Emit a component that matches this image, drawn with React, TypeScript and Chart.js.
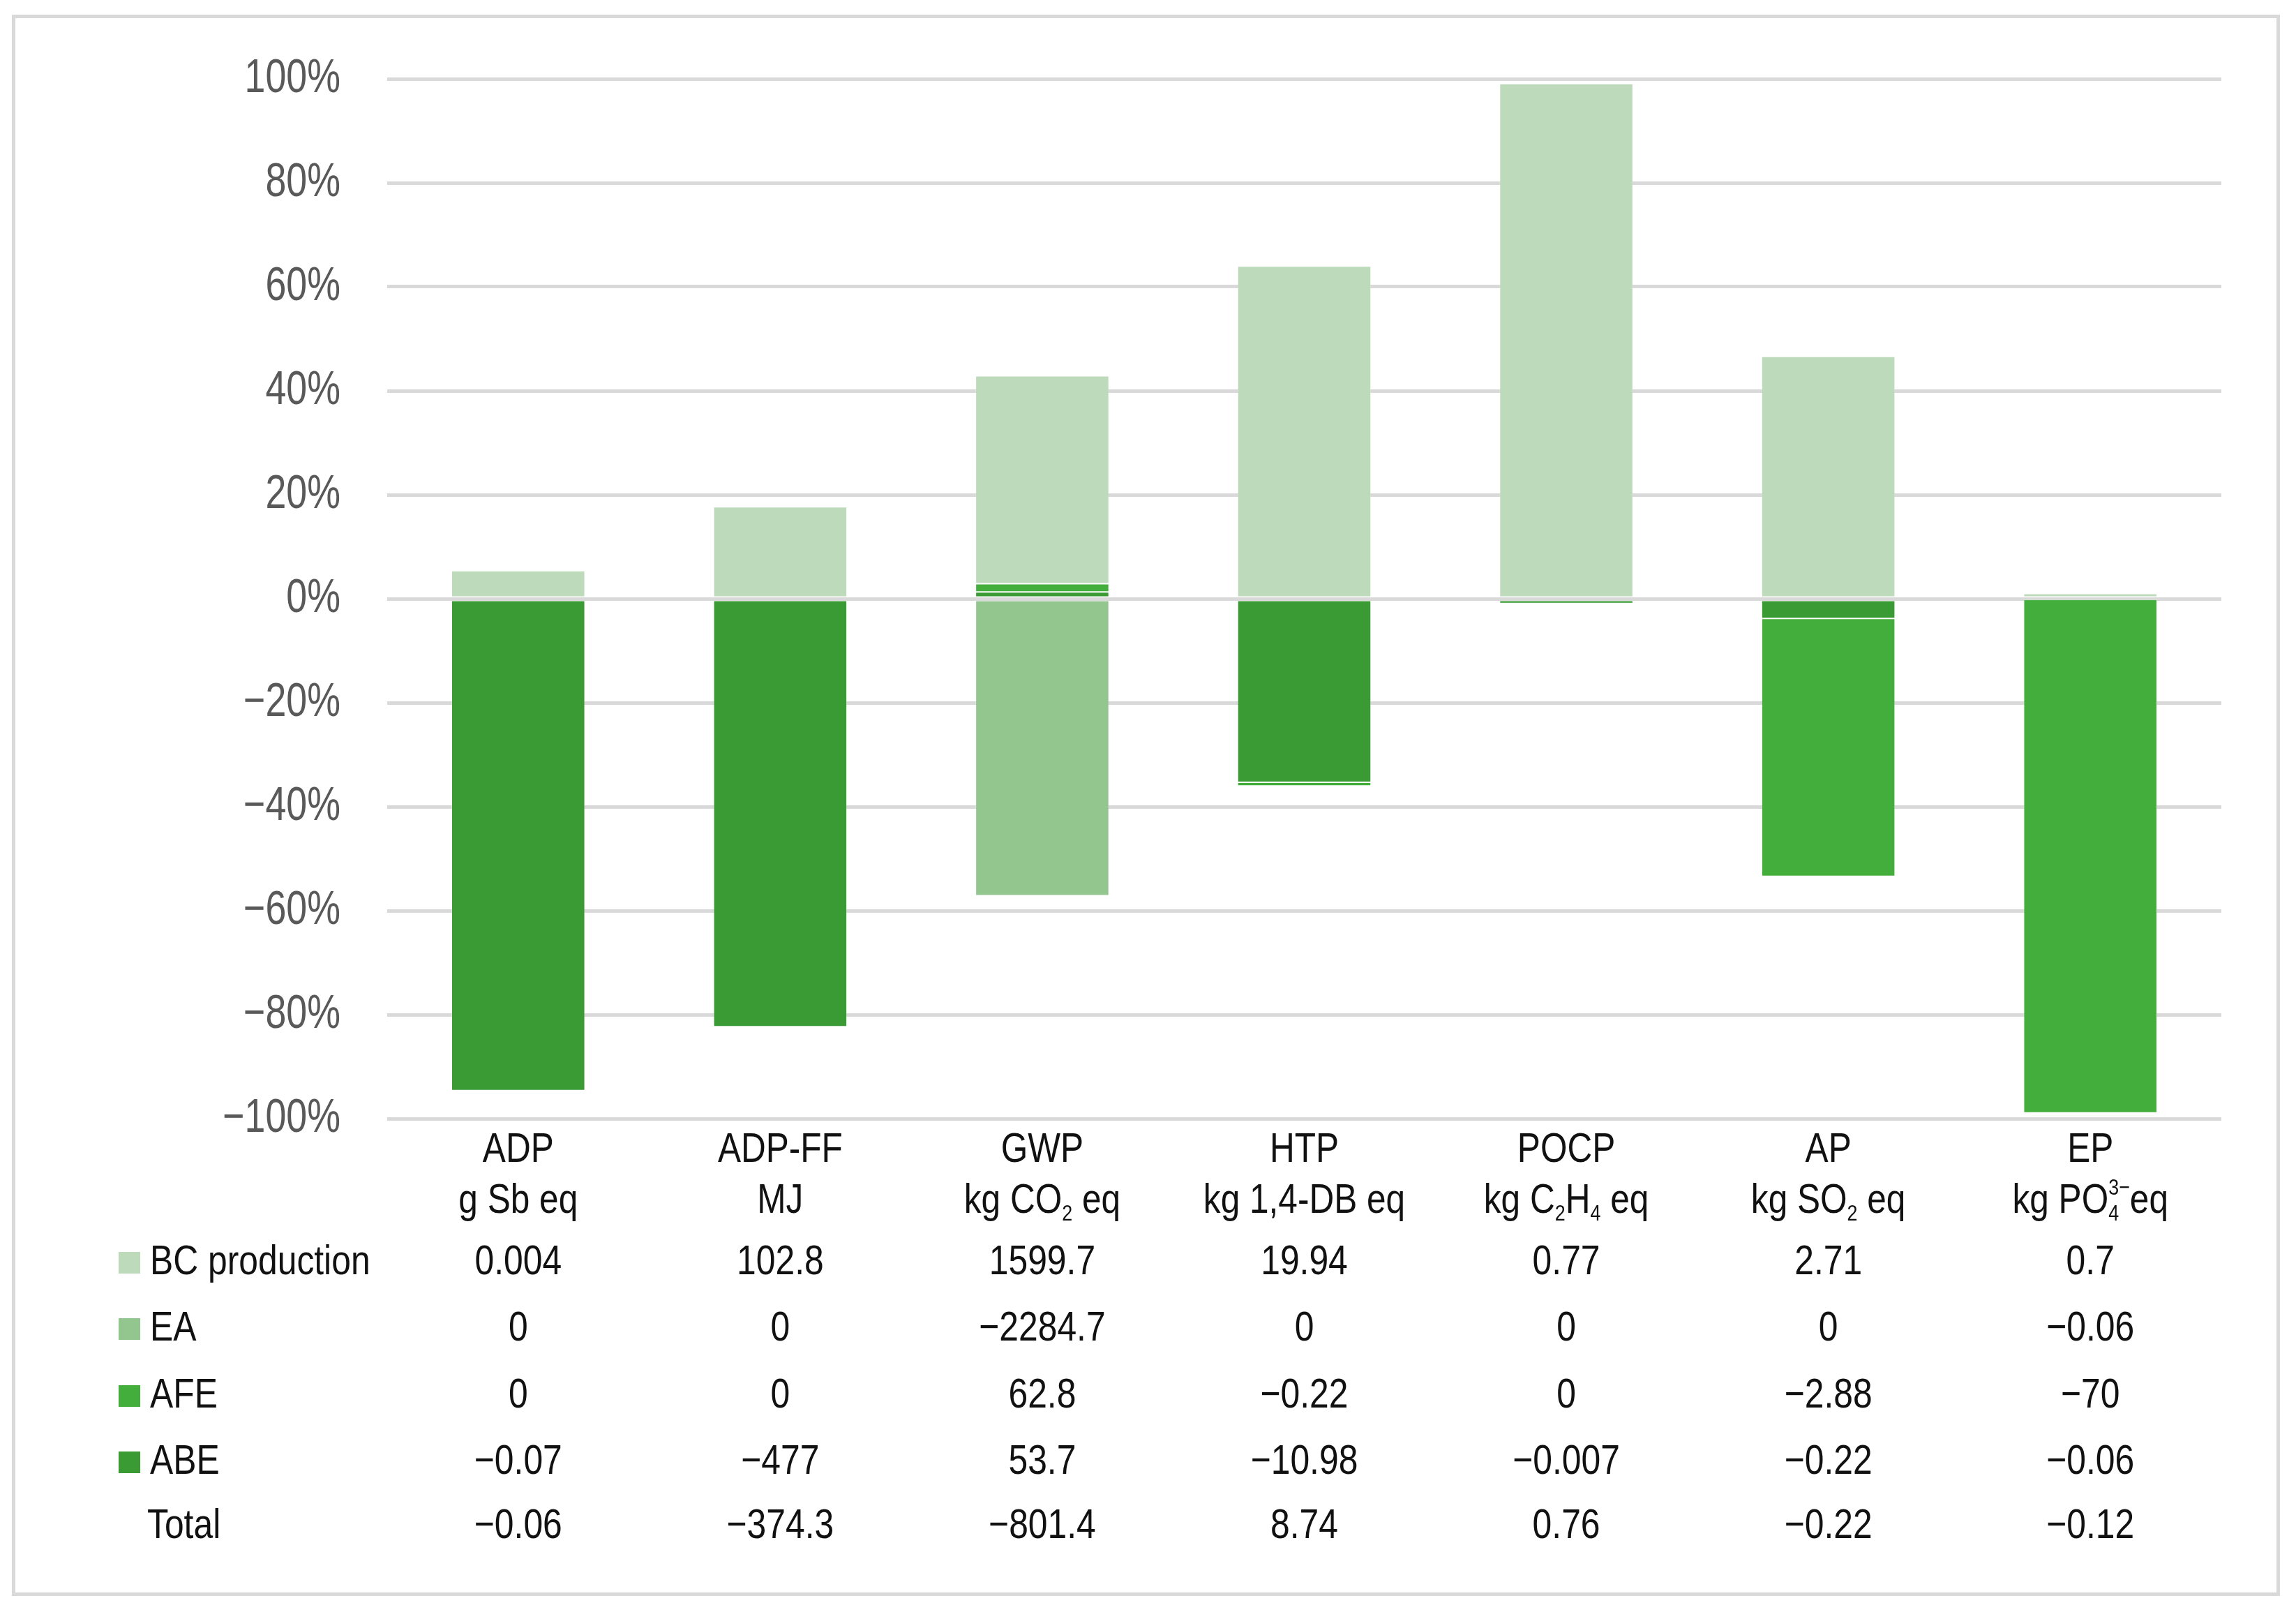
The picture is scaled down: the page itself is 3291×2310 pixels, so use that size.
import React, { useEffect, useRef } from 'react';
import { Chart, registerables } from 'chart.js';
Chart.register(...registerables);

const categories = ['ADP', 'ADP-FF', 'GWP', 'HTP', 'POCP', 'AP', 'EP'];
const units = ['g Sb eq', 'MJ', 'kg CO₂ eq', 'kg 1,4-DB eq', 'kg C₂H₄ eq', 'kg SO₂ eq', 'kg PO₄³⁻eq'];
const seriesNames = ['BC production', 'EA', 'AFE', 'ABE'];
const seriesColors = ['#BDDBBB', '#93C68F', '#43AE3B', '#3A9A33'];

// percentage shares
const bcPct = [5.4, 17.7, 40.0, 64.0, 99.1, 46.6, 1.0];
const eaPct = [0, 0, -57.1, 0, 0, 0, -0.1];
const afePct = [0, 0, 1.6, -0.7, 0, -49.6, -98.8];
const abePct = [-94.6, -82.3, 1.3, -35.3, -0.9, -3.8, -0.1];

// table values
const bcValues = ['0.004', '102.8', '1599.7', '19.94', '0.77', '2.71', '0.7'];
const eaValues = ['0', '0', '−2284.7', '0', '0', '0', '−0.06'];
const afeValues = ['0', '0', '62.8', '−0.22', '0', '−2.88', '−70'];
const abeValues = ['−0.07', '−477', '53.7', '−10.98', '−0.007', '−0.22', '−0.06'];
const totalValues = ['−0.06', '−374.3', '−801.4', '8.74', '0.76', '−0.22', '−0.12'];
const totalLabel = 'Total';

const yMin = -100;
const yMax = 100;
const yStep = 20;

const FONT = '"Liberation Sans", Arial, sans-serif';

const SUB: Record<string, string> = { '₀': '0', '₁': '1', '₂': '2', '₃': '3', '₄': '4', '₅': '5', '₆': '6', '₇': '7', '₈': '8', '₉': '9' };
const SUP: Record<string, string> = { '³': '3', '²': '2', '⁻': '−', '⁺': '+' };

// draws text (with sub/superscripts) horizontally condensed
function drawRich(ctx: any, text: string, x: number, y: number, align: string, size: number, color: string, sx: number) {
  const small = Math.round(size * 0.55);
  type Seg = { t: string; kind: 'n' | 'sub' | 'sup' };
  const segs: Seg[] = [];
  for (const ch of text) {
    const kind = SUB[ch] ? 'sub' : SUP[ch] ? 'sup' : 'n';
    const t = SUB[ch] || SUP[ch] || ch;
    const last = segs[segs.length - 1];
    if (last && last.kind === kind) last.t += t;
    else segs.push({ t, kind });
  }
  const items: { t: string; kind: string; x: number; w: number }[] = [];
  let cur = 0;
  let prevSubStart = -1;
  let prevSubW = 0;
  for (let i = 0; i < segs.length; i++) {
    const s = segs[i];
    ctx.font = `${s.kind === 'n' ? size : small}px ${FONT}`;
    const w = ctx.measureText(s.t).width;
    if (s.kind === 'sup' && prevSubStart >= 0) {
      items.push({ t: s.t, kind: s.kind, x: prevSubStart, w });
      cur = prevSubStart + Math.max(prevSubW, w);
      prevSubStart = -1;
      continue;
    }
    items.push({ t: s.t, kind: s.kind, x: cur, w });
    if (s.kind === 'sub') {
      prevSubStart = cur;
      prevSubW = w;
    } else prevSubStart = -1;
    cur += w;
  }
  const total = cur;
  const start = align === 'center' ? -total / 2 : align === 'right' ? -total : 0;
  ctx.save();
  ctx.translate(x, y);
  ctx.scale(sx, 1);
  ctx.fillStyle = color;
  ctx.textAlign = 'left';
  ctx.textBaseline = 'middle';
  for (const it of items) {
    ctx.font = `${it.kind === 'n' ? size : small}px ${FONT}`;
    const dy = it.kind === 'sub' ? size * 0.3 : it.kind === 'sup' ? -size * 0.32 : 0;
    ctx.fillText(it.t, start + it.x, dy);
  }
  ctx.restore();
}

const tablePlugin = {
  id: 'tablePlugin',
  afterDraw(chart: any) {
    const ctx = chart.ctx;
    const x = chart.scales.x;
    const yScale = chart.scales.y;
    const bottom = chart.chartArea.bottom;
    ctx.save();
    // outer frame
    ctx.strokeStyle = '#D9D9D9';
    ctx.lineWidth = 5;
    ctx.strokeRect(19.5, 23.5, 3246, 2261);

    // y tick labels
    yScale.ticks.forEach((t: any) => {
      const v = Number(t.value);
      const label = (v < 0 ? '−' + Math.abs(v) : String(v)) + '%';
      drawRich(ctx, label, 488, yScale.getPixelForValue(v), 'right', 68, '#595959', 0.79);
    });

    categories.forEach((c, i) => {
      const cx = x.getPixelForValue(i);
      drawRich(ctx, c, cx, bottom + 46, 'center', 59, '#111111', 0.84);
      drawRich(ctx, units[i], cx, bottom + 119, 'center', 59, '#111111', 0.84);
    });

    const rows = [bcValues, eaValues, afeValues, abeValues, totalValues];
    const rowY = [206, 301, 397, 492, 584];
    rows.forEach((vals, r) => {
      const y = bottom + rowY[r];
      if (r < 4) {
        ctx.fillStyle = seriesColors[r];
        ctx.fillRect(170, y - 15, 31, 31);
        drawRich(ctx, seriesNames[r], 215, y, 'left', 60, '#111111', 0.83);
      } else {
        drawRich(ctx, totalLabel, 211, y, 'left', 60, '#111111', 0.83);
      }
      vals.forEach((v, i) => {
        drawRich(ctx, v, x.getPixelForValue(i), y, 'center', 60, '#111111', 0.83);
      });
    });
    ctx.restore();
  },
};

export default function App() {
  const ref = useRef<HTMLCanvasElement | null>(null);
  useEffect(() => {
    document.body.style.margin = '0';
    const ds = [
      { label: seriesNames[3], data: abePct, backgroundColor: seriesColors[3] },
      { label: seriesNames[2], data: afePct, backgroundColor: seriesColors[2] },
      { label: seriesNames[1], data: eaPct, backgroundColor: seriesColors[1] },
      { label: seriesNames[0], data: bcPct, backgroundColor: seriesColors[0] },
    ].map((d) => ({
      ...d,
      borderColor: 'rgba(255,255,255,0.25)',
      borderWidth: 1,
      borderSkipped: false,
      barPercentage: 0.51,
      categoryPercentage: 1,
    }));
    const chart = new Chart(ref.current as HTMLCanvasElement, {
      type: 'bar',
      data: { labels: categories, datasets: ds as any },
      options: {
        animation: false,
        responsive: false,
        devicePixelRatio: 1,
        layout: { padding: { left: 0, right: 107, top: 113, bottom: 707 } },
        plugins: { legend: { display: false }, tooltip: { enabled: false } },
        scales: {
          x: {
            display: false,
            stacked: true,
            grid: { display: false },
          },
          y: {
            stacked: true,
            min: yMin,
            max: yMax,
            grid: { color: '#D9D9D9', lineWidth: 5, drawTicks: false },
            border: { display: false },
            afterFit: (scale: any) => {
              scale.width = 555;
            },
            ticks: { stepSize: yStep, display: false },
          },
        },
      },
      plugins: [tablePlugin],
    });
    return () => chart.destroy();
  }, []);
  return (
    <div style={{ position: 'absolute', left: 0, top: 0, width: 3291, height: 2310 }}>
      <canvas ref={ref} width={3291} height={2310} style={{ width: 3291, height: 2310 }} />
    </div>
  );
}
